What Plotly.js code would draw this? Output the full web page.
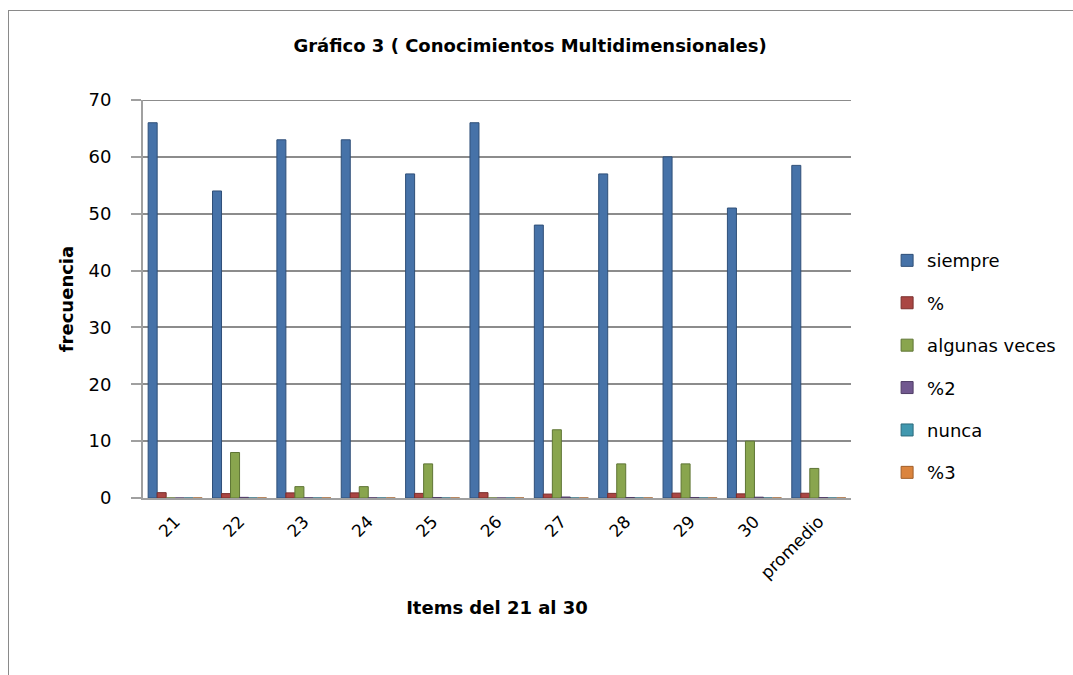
<!DOCTYPE html>
<html><head><meta charset="utf-8">
<script src="https://cdn.plot.ly/plotly-3.0.1.min.js"></script>
<style>
html,body{margin:0;padding:0;background:#fff;}
#frame{position:absolute;left:8px;top:10px;width:1100px;height:700px;border-left:1px solid #8a8a8a;border-top:1px solid #8a8a8a;}
#chart{position:absolute;left:0;top:0;width:1073px;height:675px;}
</style></head><body>
<div id="frame"></div>
<div id="chart"></div>
<script>
const categories = ["21","22","23","24","25","26","27","28","29","30","promedio"];
const siempre = [66,54,63,63,57,66,48,57,60,51,58.5];
const pct1 = [0.94,0.77,0.9,0.9,0.81,0.94,0.69,0.81,0.86,0.73,0.84];
const algunas = [0,8,2,2,6,0,12,6,6,10,5.2];
const pct2 = [0,0.11,0.03,0.03,0.09,0,0.17,0.09,0.09,0.14,0.07];
const nunca = [0,0,0,0,0,0,0,0,0,0,0];
const pct3 = [0,0,0,0,0,0,0,0,0,0,0];
const seriesNames = ["siempre","%","algunas veces","%2","nunca","%3"];
const seriesData = [siempre,pct1,algunas,pct2,nunca,pct3];
const colors = ["#4672a8","#aa4643","#89a54e","#71588f","#4198af","#db843d"];
const lines = ["#2f4f78","#7a2f2d","#5f7535","#4f3d66","#2c6b7c","#a05f2a"];

const traces = seriesNames.map((n,i)=>({
  type:'bar', name:n, x:categories, y:seriesData[i],
  marker:{color:colors[i], line:{color:lines[i], width:1}},
  legendgroup:'g'+i, hoverinfo:'y'
}));

const font = "'DejaVu Sans', sans-serif";
const layout = {
  width:1073, height:675,
  paper_bgcolor:'rgba(0,0,0,0)', plot_bgcolor:'rgba(0,0,0,0)',
  margin:{l:143, r:222, t:100, b:177},
  barmode:'group', bargap:0.16, bargroupgap:0,
  title:{text:'<b>Gráfico 3 ( Conocimientos Multidimensionales)</b>', x:0.494, xanchor:'center', y:0.933, yanchor:'middle', font:{family:font, size:18, color:'#000'}},
  xaxis:{
    type:'category', tickangle:-45, tickfont:{family:font, size:17, color:'#000'},
    showgrid:false, showline:true, linecolor:'#a0a0a0', linewidth:2,
    ticks:'', zeroline:false, ticklabelstandoff:5,
    title:{text:'<b>Items del 21 al 30</b>', font:{family:font, size:18, color:'#000'}, standoff:20}
  },
  yaxis:{
    range:[0,70], dtick:10, tickfont:{family:font, size:18, color:'#000'},
    showgrid:true, gridcolor:'#8c8c8c', gridwidth:2,
    showline:true, linecolor:'#a0a0a0', linewidth:2,
    ticks:'outside', ticklen:10, tickcolor:'#a0a0a0', tickwidth:2,
    ticklabelstandoff:16, zeroline:false,
    title:{text:'<b>frecuencia</b>', font:{family:font, size:18, color:'#000'}, standoff:10}
  },
  shapes:[{type:'line', xref:'paper', yref:'y', x0:0, x1:1, y0:70, y1:70, line:{color:'#8c8c8c', width:2}, layer:'below'}],
  legend:{x:1.051, xanchor:'left', y:0.33, yanchor:'middle', font:{family:font, size:18, color:'#000'},
    traceorder:'grouped', tracegroupgap:16, itemwidth:30, bgcolor:'rgba(0,0,0,0)'},
  showlegend:true
};
Plotly.newPlot('chart', traces, layout, {displayModeBar:false, staticPlot:true});
</script>
</body></html>
